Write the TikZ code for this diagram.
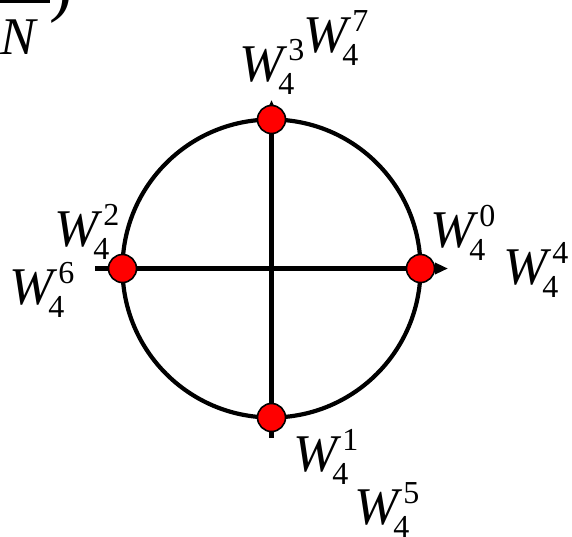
\documentclass[tikz,border=0pt]{standalone}
\usepackage{fontspec}
\setmainfont{Liberation Serif}
\usetikzlibrary{arrows.meta}
\newcommand\Wlab[1]{\textit{W}\kern1pt\makebox[0pt][l]{\raisebox{21pt}{\fontsize{32}{32}\selectfont #1}}\kern-10pt\raisebox{-13pt}{\fontsize{32}{32}\selectfont 4}}
\tikzset{
  axisline/.style={line width=4.2pt,-{Triangle[length=13pt,width=11pt]}},
  ring/.style={line width=4.2pt},
  dot/.style={circle,fill=red,draw=black,line width=1.6pt,minimum size=28pt,inner sep=0pt},
  wlabel/.style={anchor=base west,inner sep=0pt,font=\fontsize{53}{53}\selectfont},
}
\begin{document}
\begin{tikzpicture}[x=1pt,y=-1pt]
\useasboundingbox (0,0) rectangle (572,536);
\clip (0,0) rectangle (572,536);
\fill[white] (0,0) rectangle (572,536);
% partial formula at the top left
\draw[line width=4pt] (-5,1) -- (50,1);
\node[wlabel] (nN) at (0,54) {\textit{N}};
\node[wlabel,font=\fontsize{70}{70}\selectfont] (paren) at (49,8) {)};
% circle and axes
\coordinate (c) at (271.5,268.5);
\draw[ring] (c) circle[radius=149];
\coordinate (xl) at (95,268.5);
\coordinate (xr) at (448,268.5);
\coordinate (yb) at (271.5,438);
\coordinate (yt) at (271.5,100);
\draw[axisline] (xl) -- (xr);
\draw[axisline] (yb) -- (yt);
% dots
\node[dot] (d0) at (420.5,268.5) {};
\node[dot] (d1) at (271.5,417.5) {};
\node[dot] (d2) at (122.5,268.5) {};
\node[dot] (d3) at (271.5,119.5) {};
% labels
\node[wlabel] (w3) at (239,81) {\Wlab{3}};
\node[wlabel] (w7) at (303,52) {\Wlab{7}};
\node[wlabel] (w2) at (54,246) {\Wlab{2}};
\node[wlabel] (w6) at (9,304) {\Wlab{6}};
\node[wlabel] (w0) at (430,247) {\Wlab{0}};
\node[wlabel] (w4) at (503,284) {\Wlab{4}};
\node[wlabel] (w1) at (293,471) {\Wlab{1}};
\node[wlabel] (w5) at (354,524) {\Wlab{5}};
\end{tikzpicture}
\end{document}
